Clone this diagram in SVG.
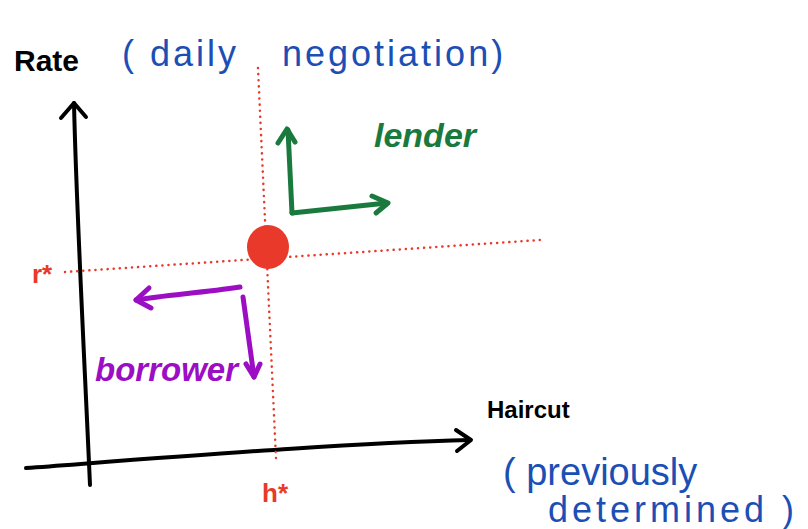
<svg xmlns="http://www.w3.org/2000/svg" width="808" height="529" viewBox="0 0 808 529">
<style>
.ax{fill:none;stroke:#000;stroke-width:4;stroke-linecap:round;stroke-linejoin:round}
.dot{fill:none;stroke:#e8392a;stroke-width:2.5;stroke-dasharray:0.1 6;stroke-linecap:round}
.gr{fill:none;stroke:#1a7a3e;stroke-width:5;stroke-linecap:round;stroke-linejoin:round}
.pu{fill:none;stroke:#9b0ec4;stroke-width:5;stroke-linecap:round;stroke-linejoin:round}
.t{font-family:"Liberation Sans",Arial,sans-serif;font-weight:bold}
.b{font-family:"Liberation Sans",Arial,sans-serif;fill:#1b4fb5}
</style>
<rect width="808" height="529" fill="#fff"/>
<g id="axes">
<path class="ax" d="M90 485 C84 350 76 200 74 103"/>
<path class="ax" d="M61 118 L74 103 L86 117"/>
<path class="ax" d="M26 468 C200 455 350 443 470 440"/>
<path class="ax" d="M456 430 L471 440 L457 451"/>
</g>
<g id="guides">
<path class="dot" d="M258 68 L276 458"/>
<path class="dot" d="M65 272 L540 240"/>
</g>
<g id="equilibrium">
<ellipse cx="268" cy="247" rx="21" ry="22" fill="#e8392a"/>
</g>
<g id="lender">
<path class="gr" d="M292 213 L288 130"/>
<path class="gr" d="M278 143 L287 129 L295 142"/>
<path class="gr" d="M292 213 L387 203"/>
<path class="gr" d="M372 196 L388 203 L376 213"/>
<text class="t" x="374" y="147" font-size="34" fill="#1a7a3e" font-style="italic">lender</text>
</g>
<g id="borrower">
<path class="pu" d="M240 287 C200 293 165 295 136 300"/>
<path class="pu" d="M149 288 L136 300 L151 308"/>
<path class="pu" d="M243 297 L254 377"/>
<path class="pu" d="M246 364 L254 377 L260 364"/>
<text class="t" x="95" y="381" font-size="33" fill="#9b0ec4" font-style="italic">borrower</text>
</g>
<g id="labels">
<text class="t" x="14" y="71" font-size="30" fill="#000">Rate</text>
<text class="b" x="122" y="66" font-size="36" letter-spacing="3"><tspan>( daily</tspan><tspan x="282">negotiation)</tspan></text>
<text class="t" x="32" y="283" font-size="26" fill="#e8392a">r*</text>
<text class="t" x="262" y="502" font-size="26" fill="#e8392a">h*</text>
<text class="t" x="487" y="418" font-size="24" fill="#000">Haircut</text>
<text class="b" x="503" y="485" font-size="38">( previously</text>
<text class="b" x="548" y="522" font-size="36" letter-spacing="4">determined )</text>
</g>
</svg>
